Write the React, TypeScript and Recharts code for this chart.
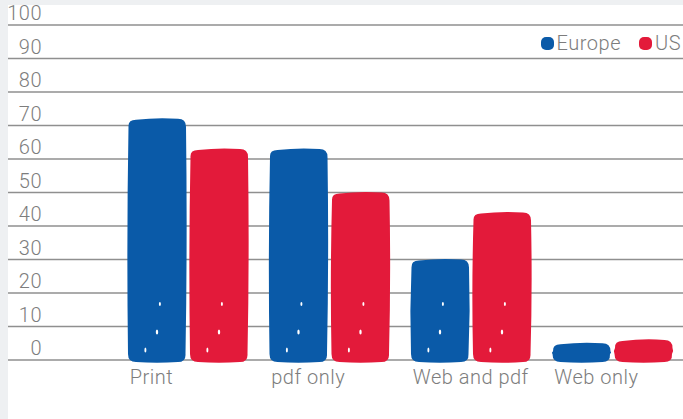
import React from 'react';
import { BarChart, Bar, XAxis, YAxis, CartesianGrid } from 'recharts';

const categories = ['Print', 'pdf only', 'Web and pdf', 'Web only'];
const europeValues = [72, 63, 30, 5];
const usValues = [63, 50, 44, 6];
const yTicks = [0, 10, 20, 30, 40, 50, 60, 70, 80, 90, 100];

const BLUE = '#0a5aa8';
const RED = '#e31a3a';
const TEXT = '#7d7d7d';
const FONT = 'Roboto, "Liberation Sans", sans-serif';

const chartData = categories.map((name, i) => ({
  name,
  Europe: europeValues[i],
  US: usValues[i],
}));

// marker-like bar: rounded, a bit wobbly, a few white specks near the bottom
const MarkerBar = (props: any) => {
  const { x, y, width, height, fill } = props;
  if (!height || height <= 0) return null;
  const b = y + height + 2;
  const r = Math.min(8, height / 2);
  const w = 1.5;
  const d = [
    `M ${x + r} ${y + 1}`,
    `Q ${x + width * 0.5} ${y - w} ${x + width - r} ${y}`,
    `Q ${x + width} ${y} ${x + width} ${y + r}`,
    `Q ${x + width + w} ${y + (b - y) * 0.5} ${x + width - 0.5} ${b - r}`,
    `Q ${x + width} ${b} ${x + width - r} ${b}`,
    `Q ${x + width * 0.5} ${b + w} ${x + r} ${b}`,
    `Q ${x} ${b} ${x} ${b - r}`,
    `Q ${x - w} ${y + (b - y) * 0.5} ${x + 0.5} ${y + r}`,
    `Q ${x} ${y + 1} ${x + r} ${y + 1}`,
    'Z',
  ].join(' ');
  const specks = height > 60;
  return (
    <g>
      <path d={d} fill={fill} />
      {specks && (
        <g fill="#fff">
          <ellipse cx={x + width * 0.5} cy={b - 30} rx={1.2} ry={2.5} />
          <ellipse cx={x + width * 0.55} cy={b - 58} rx={1} ry={2} />
          <ellipse cx={x + width * 0.3} cy={b - 12} rx={1} ry={2.5} />
        </g>
      )}
    </g>
  );
};

const YTick = (props: any) => {
  const { y, payload } = props;
  return (
    <text
      x={34}
      y={y - 5}
      textAnchor="end"
      fill={TEXT}
      fontSize={20}
      fontFamily={FONT}
      fontWeight={300}
      letterSpacing={0.5}
    >
      {payload.value}
    </text>
  );
};

const XTick = (props: any) => {
  const { x, y, payload } = props;
  return (
    <text
      x={x - 58}
      y={y + 24}
      textAnchor="start"
      fill={TEXT}
      fontSize={20}
      fontFamily={FONT}
      fontWeight={300}
      letterSpacing={0.5}
    >
      {payload.value}
    </text>
  );
};

const LegendBox = () => (
  <div
    style={{
      position: 'absolute',
      right: 2,
      top: 31,
      display: 'flex',
      alignItems: 'center',
      fontFamily: FONT,
      fontWeight: 300,
      fontSize: 20,
      letterSpacing: 0.5,
      color: TEXT,
    }}
  >
    <span style={{ width: 13, height: 13, borderRadius: 5, background: BLUE, display: 'inline-block', marginRight: 3 }} />
    <span>Europe</span>
    <span style={{ width: 13, height: 13, borderRadius: 5, background: RED, display: 'inline-block', marginLeft: 18, marginRight: 3 }} />
    <span>US</span>
  </div>
);

export default function App() {
  return (
    <div style={{ position: 'fixed', left: 0, top: 0, width: 683, height: 419, background: '#eef0f2' }}>
      <div style={{ position: 'absolute', left: 8, top: 5, width: 675, height: 414, background: '#fff' }} />
      <div style={{ position: 'absolute', left: 8, top: 0, width: 675, height: 419 }}>
        <BarChart
          width={675}
          height={419}
          data={chartData}
          margin={{ top: 25, right: 0, left: 0, bottom: 0 }}
          barCategoryGap={11}
          barGap={4}
        >
          <CartesianGrid vertical={false} stroke="#8f8f8f" strokeWidth={1.5} />
          <XAxis
            dataKey="name"
            axisLine={false}
            tickLine={false}
            tickSize={0}
            tickMargin={0}
            height={59}
            interval={0}
            padding={{ left: 109, right: 0 }}
            tick={<XTick />}
          />
          <YAxis
            mirror
            domain={[0, 100]}
            ticks={yTicks}
            interval={0}
            axisLine={false}
            tickLine={false}
            tick={<YTick />}
          />
          <Bar dataKey="Europe" fill={BLUE} shape={<MarkerBar />} isAnimationActive={false} />
          <Bar dataKey="US" fill={RED} shape={<MarkerBar />} isAnimationActive={false} />
        </BarChart>
        <LegendBox />
      </div>
    </div>
  );
}
